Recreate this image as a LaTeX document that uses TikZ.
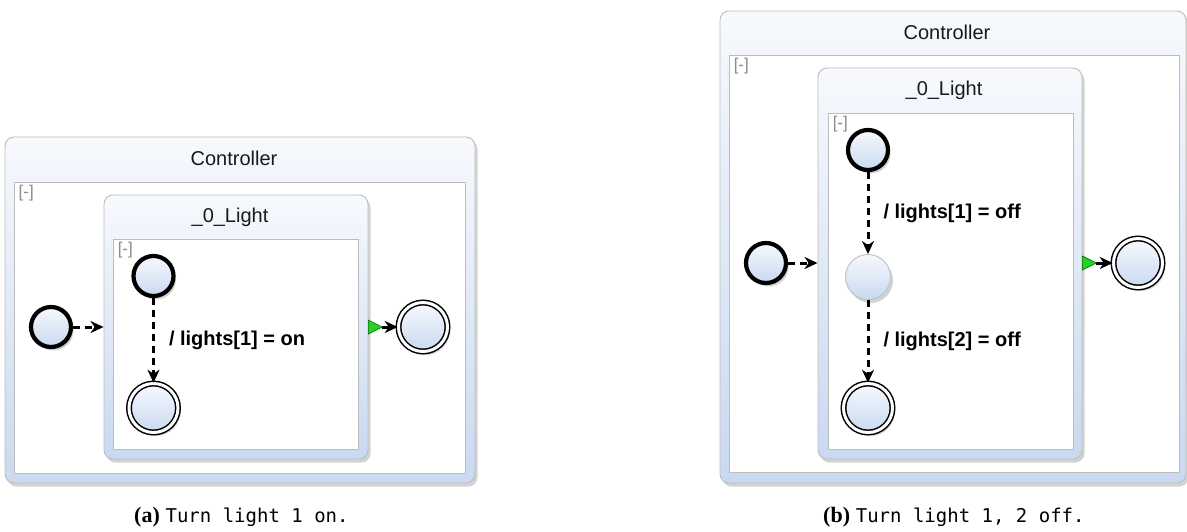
\documentclass[tikz,border=0pt]{standalone}
\usepackage{fontspec}
\setsansfont{Liberation Sans}
\setmonofont{DejaVu Sans Mono}
\newfontfamily\tagfont{Liberation Serif}
\usepackage{xcolor}
\usepackage{tikz}
\usetikzlibrary{positioning, arrows.meta, shadows}
\definecolor{statetop}{HTML}{F7F9FD}
\definecolor{statebottom}{HTML}{C9D9F0}
\definecolor{frameline}{HTML}{BDBDBD}
\definecolor{termgreen}{HTML}{22D322}
\definecolor{hintgray}{HTML}{8C8C8C}

\tikzset{
  dshadow/.style={drop shadow={shadow xshift=2.5pt, shadow yshift=-3.5pt, opacity=0.35}},
  superstate/.style={rectangle, rounded corners=9pt, draw=frameline, line width=0.9pt,
        top color=statetop, bottom color=statebottom, dshadow, inner sep=0pt},
  region/.style={rectangle, draw=frameline, line width=0.9pt, fill=white, inner sep=0pt},
  header/.style={font=\sffamily\fontsize{20}{24}\selectfont, text=black!90},
  collapse/.style={font=\sffamily\fontsize{17}{20}\selectfont, text=hintgray, inner sep=0pt, anchor=north west},
  initstate/.style={circle, minimum size=40pt, inner sep=0pt, line width=4.2pt, draw=black,
        top color=statetop, bottom color=statebottom, dshadow},
  plainstate/.style={circle, minimum size=45pt, inner sep=0pt, line width=0.9pt, draw=black!25,
        top color=statetop, bottom color=statebottom, dshadow},
  finalstate/.style={circle, minimum size=49pt, inner sep=0pt, line width=1.5pt, draw=black,
        double=white, double distance=3pt, top color=statetop, bottom color=statebottom, dshadow},
  immediate/.style={line width=3pt, dash pattern=on 7pt off 5pt,
        -{Stealth[length=13pt, width=12pt, inset=4pt]}},
  termination/.style={line width=3pt, -{Stealth[length=13pt, width=12pt, inset=4pt]}},
  exitmark/.style={fill=termgreen, draw=green!40!black, line width=0.5pt},
  trlabel/.style={font=\sffamily\bfseries\fontsize{20}{24}\selectfont, anchor=west, inner sep=0pt},
  subcaption/.style={font=\fontsize{19}{22}\selectfont, anchor=west, inner sep=0pt}
}

\begin{document}
\begin{tikzpicture}[x=1pt, y=-1pt]
  \useasboundingbox (0,0) rectangle (1187,531);

  % (a) switch one light on
  \node[superstate, minimum width=470pt, minimum height=346pt] (ctrlA) at (240,310) {};
  \node[header, xshift=-6pt, below=11pt of ctrlA.north] {Controller};
  \node[region, minimum width=451pt, minimum height=291pt] (regA) at (239.5,327.5) {};
  \node[collapse] at ([xshift=5pt, yshift=-3pt]regA.north west) {[-]};
  \node[superstate, minimum width=264pt, minimum height=264pt] (lightA) at (236,327) {};
  \node[header, xshift=-6pt, below=10pt of lightA.north] {\_0\_Light};
  \node[region, minimum width=245pt, minimum height=210pt] (lregA) at (235.5,344) {};
  \node[collapse] at ([xshift=5pt, yshift=-3pt]lregA.north west) {[-]};

  \node[initstate] (initA) at (51,327) {};
  \node[initstate] (startA) at (153.5,276) {};
  \node[finalstate] (endA) at (153.5,408) {};
  \node[finalstate] (doneA) at (423,327) {};

  \draw[immediate] (initA) -- (initA -| lightA.west);
  \draw[immediate] (startA) -- (endA)
    node[trlabel, midway, xshift=14pt] {/ lights[1] = on};
  \coordinate (exitA) at (lightA.east |- doneA);
  \fill[exitmark] (exitA) -- ++(0,-7) -- ++(14,7) -- ++(-14,7) -- cycle;
  \draw[termination] ([xshift=14pt]exitA) -- (doneA);

  % (b) switch two lights off
  \node[superstate, minimum width=466pt, minimum height=472pt] (ctrlB) at (953,247) {};
  \node[header, xshift=-6pt, below=11pt of ctrlB.north] {Controller};
  \node[region, minimum width=450pt, minimum height=417pt] (regB) at (954,263.5) {};
  \node[collapse] at ([xshift=5pt, yshift=-3pt]regB.north west) {[-]};
  \node[superstate, minimum width=264pt, minimum height=391pt] (lightB) at (950,263.5) {};
  \node[header, xshift=-6pt, below=10pt of lightB.north] {\_0\_Light};
  \node[region, minimum width=245pt, minimum height=336pt] (lregB) at (950.5,281) {};
  \node[collapse] at ([xshift=5pt, yshift=-3pt]lregB.north west) {[-]};

  \node[initstate] (initB) at (766,263) {};
  \node[initstate] (startB) at (868,150) {};
  \node[plainstate] (midB) at (868,277) {};
  \node[finalstate] (endB) at (868,408) {};
  \node[finalstate] (doneB) at (1138,263) {};

  \draw[immediate] (initB) -- (initB -| lightB.west);
  \draw[immediate] (startB) -- (midB)
    node[trlabel, midway, xshift=14pt] {/ lights[1] = off};
  \draw[immediate] (midB) -- (endB)
    node[trlabel, midway, xshift=14pt] {/ lights[2] = off};
  \coordinate (exitB) at (lightB.east |- doneB);
  \fill[exitmark] (exitB) -- ++(0,-7) -- ++(14,7) -- ++(-14,7) -- cycle;
  \draw[termination] ([xshift=14pt]exitB) -- (doneB);

  % captions
  \node[subcaption] (capA) at (134,517) {{\tagfont\bfseries\fontsize{22}{24}\selectfont (a)} \texttt{Turn light 1 on.}};
  \node[subcaption] (capB) at (823,517) {{\tagfont\bfseries\fontsize{22}{24}\selectfont (b)} \texttt{Turn light 1, 2 off.}};
\end{tikzpicture}
\end{document}
